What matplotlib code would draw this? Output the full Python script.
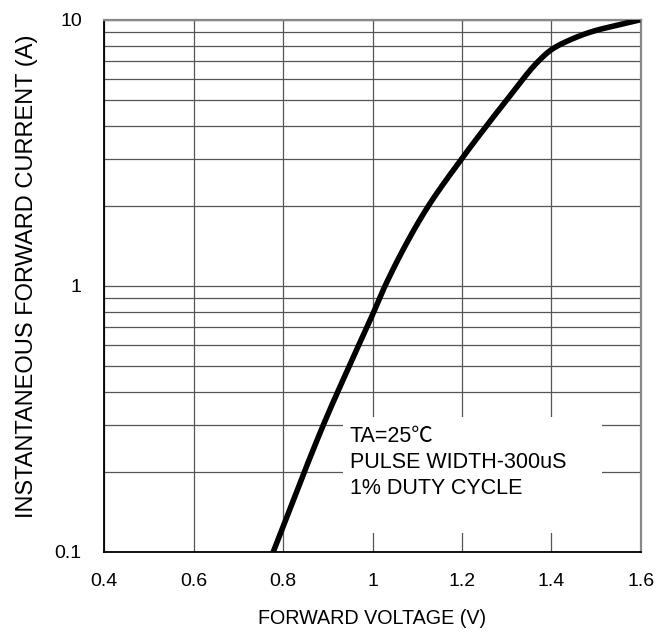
import numpy as np
import matplotlib
matplotlib.use('Agg')
from matplotlib import pyplot as plt
from matplotlib.patches import Rectangle
from matplotlib.ticker import FixedLocator, NullFormatter

plt.rcParams['font.family'] = ['Liberation Sans', 'Noto Sans CJK SC', 'DejaVu Sans']

# Kurva karakteristik maju
tegangan = [0.778, 0.890, 0.948, 1.003, 1.028, 1.084, 1.125, 1.199, 1.255,
            1.300, 1.371, 1.400, 1.434, 1.493, 1.545, 1.598]
arus = [0.1, 0.3, 0.5, 0.8, 1.0, 1.53, 2.0, 3.0, 4.0,
        5.0, 7.0, 7.73, 8.3, 9.06, 9.53, 10.0]

xticks = [0.4, 0.6, 0.8, 1.0, 1.2, 1.4, 1.6]
xlabels = ['0.4', '0.6', '0.8', '1', '1.2', '1.4', '1.6']
yticks = [0.1, 1, 10]
ylabels = ['0.1', '1', '10']
yminor = [0.2, 0.3, 0.4, 0.5, 0.6, 0.7, 0.8, 0.9, 2, 3, 4, 5, 6, 7, 8, 9]


# Interpolasi kubik monoton (PCHIP) supaya garis kurva halus
def pchip(x, y, xn):
    x = np.asarray(x, float)
    y = np.asarray(y, float)
    h = np.diff(x)
    d = np.diff(y) / h
    m = np.zeros_like(y)
    for k in range(1, len(x) - 1):
        if d[k - 1] * d[k] > 0:
            w1 = 2 * h[k] + h[k - 1]
            w2 = h[k] + 2 * h[k - 1]
            m[k] = (w1 + w2) / (w1 / d[k - 1] + w2 / d[k])
    m[0] = d[0]
    m[-1] = d[-1]
    idx = np.clip(np.searchsorted(x, xn) - 1, 0, len(x) - 2)
    t = (xn - x[idx]) / h[idx]
    h00 = 2 * t**3 - 3 * t**2 + 1
    h10 = t**3 - 2 * t**2 + t
    h01 = -2 * t**3 + 3 * t**2
    h11 = t**3 - t**2
    return (h00 * y[idx] + h10 * h[idx] * m[idx]
            + h01 * y[idx + 1] + h11 * h[idx] * m[idx + 1])


v_halus = np.linspace(tegangan[0], tegangan[-1], 400)
i_halus = 10 ** pchip(tegangan, np.log10(arus), v_halus)

fig = plt.figure(figsize=(6.67, 6.40), dpi=100)
ax = fig.add_axes([0.156, 0.1375, 0.805, 0.8315])

ax.plot(v_halus, i_halus, color='black', linewidth=4, zorder=3,
        solid_capstyle='butt')

ax.set_yscale('log')
ax.set_xlim(0.4, 1.6)
ax.set_ylim(0.1, 10)

ax.set_xticks(xticks)
ax.set_xticklabels(xlabels)
ax.set_yticks(yticks)
ax.set_yticklabels(ylabels)
ax.yaxis.set_minor_locator(FixedLocator(yminor))
ax.yaxis.set_minor_formatter(NullFormatter())

ax.tick_params(which='both', length=0, labelsize=14)
ax.tick_params(axis='x', pad=15)
ax.tick_params(axis='y', pad=16)

# Garis grid
ax.set_axisbelow(True)
ax.grid(True, which='major', axis='both', color='#555555', linewidth=0.9)
ax.grid(True, which='minor', axis='y', color='#555555', linewidth=0.9)

for s in ['left', 'bottom']:
    ax.spines[s].set_color('black')
    ax.spines[s].set_linewidth(1.3)
for s in ['top', 'right']:
    ax.spines[s].set_color('#888888')
    ax.spines[s].set_linewidth(1.6)

# Kotak putih untuk keterangan
ax.add_patch(Rectangle((0.445, 0.036), 0.482, 0.218, transform=ax.transAxes,
                       facecolor='white', edgecolor='none', zorder=1))
ax.text(0.458, 0.236, 'TA=25\u2103\nPULSE WIDTH-300uS\n1% DUTY CYCLE',
        transform=ax.transAxes, ha='left', va='top', fontsize=15.5,
        linespacing=1.3, zorder=2)

ax.set_xlabel('FORWARD VOLTAGE (V)', fontsize=14.2, labelpad=14)
ax.set_ylabel('INSTANTANEOUS FORWARD CURRENT (A)', fontsize=17, labelpad=12)
ax.yaxis.label.set_y(0.518)

fig.savefig('out.png', dpi=100)
